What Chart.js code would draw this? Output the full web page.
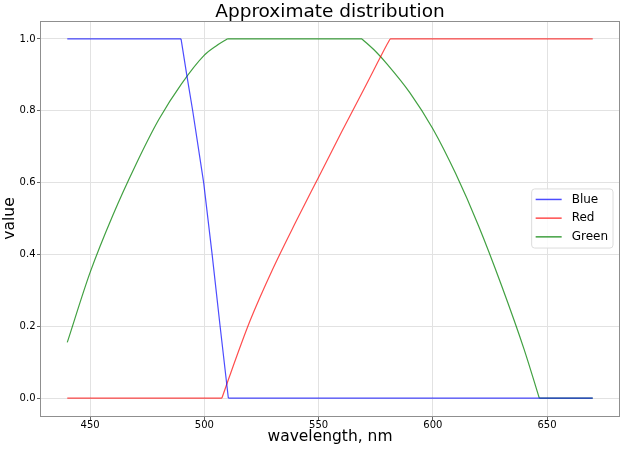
<!DOCTYPE html>
<html>
<head>
<meta charset="utf-8">
<script src="https://cdn.jsdelivr.net/npm/chart.js@4/dist/chart.umd.min.js"></script>
<style>
  html, body { margin: 0; padding: 0; background: #ffffff; }
</style>
</head>
<body>
<canvas id="spectrumChart" width="623" height="450"></canvas>
<script>
// values (wavelength in nm, value 0..1)
// curved parts are split from flat parts so the corners stay sharp
const blueTopX  = [440, 489.8]
const blueTopY  = [1.0, 1.0]
const blueFallX = [489.8, 492.3, 494.9, 499.7, 503.4, 506.9, 510.5]
const blueFallY = [1.0, 0.9, 0.8, 0.6, 0.4, 0.2, 0.0]
const blueBaseX = [510.5, 670]
const blueBaseY = [0.0, 0.0]

const redBaseX = [440, 507.7]
const redBaseY = [0.0, 0.0]
const redRiseX = [507.7, 510, 520, 530, 540, 550, 560, 570, 580, 581.3]
const redRiseY = [0.0, 0.042, 0.215, 0.36, 0.49, 0.615, 0.74, 0.862, 0.985, 1.0]
const redTopX  = [581.3, 670]
const redTopY  = [1.0, 1.0]

const greenRiseX = [440, 450, 460, 470, 480, 490, 500, 505, 510]
const greenRiseY = [0.155, 0.35, 0.51, 0.65, 0.775, 0.875, 0.955, 0.98, 1.0]
const greenTopX  = [510, 569]
const greenTopY  = [1.0, 1.0]
const greenFallX = [569, 575, 580, 590, 600, 610, 620, 630, 640, 646.6]
const greenFallY = [1.0, 0.965, 0.93, 0.85, 0.75, 0.625, 0.48, 0.315, 0.135, 0.0]
const greenBaseX = [646.6, 670]
const greenBaseY = [0.0, 0.0]

const toPoints = (xs, ys) => xs.map((x, i) => ({ x: x, y: ys[i] }))

const BLUE  = 'rgba(0,0,255,0.7)'
const RED   = 'rgba(255,0,0,0.7)'
const GREEN = 'rgba(0,128,0,0.75)'

Chart.defaults.font.family = "'DejaVu Sans', sans-serif"
Chart.defaults.color = '#000000'

// plot frame drawn on top of the lines
const framePlugin = {
  id: 'frame',
  afterDatasetsDraw(chart) {
    const { ctx, chartArea: a } = chart
    ctx.save()
    ctx.strokeStyle = '#8f8f8f'
    ctx.lineWidth = 1
    ctx.strokeRect(a.left - 0.5, a.top + 0.5, a.right - a.left + 1, a.bottom - a.top)
    ctx.restore()
  }
}

// legend box inside the plot, right / centre (one row per label)
const boxLegend = {
  id: 'boxLegend',
  afterDraw(chart) {
    const { ctx, chartArea: a } = chart
    const seen = {}
    const sets = chart.data.datasets.filter(d => {
      if (seen[d.label]) return false
      seen[d.label] = true
      return true
    })
    ctx.save()
    ctx.font = "12px 'DejaVu Sans'"
    let maxW = 0
    sets.forEach(d => { maxW = Math.max(maxW, ctx.measureText(d.label).width) })
    const rowH = 18.7
    const w = 4 + 26 + 10 + maxW + 5
    const h = sets.length * rowH + 3
    const x = a.right - 6 - w
    const y = (a.top + a.bottom) / 2 - h / 2
    ctx.beginPath()
    ctx.roundRect(x, y, w, h, 3)
    ctx.fillStyle = 'rgba(255,255,255,0.85)'
    ctx.fill()
    ctx.strokeStyle = '#dcdcdc'
    ctx.lineWidth = 1
    ctx.stroke()
    sets.forEach((d, i) => {
      const cy = y + 10.5 + i * rowH
      ctx.beginPath()
      ctx.moveTo(x + 4, cy)
      ctx.lineTo(x + 30, cy)
      ctx.strokeStyle = d.borderColor
      ctx.lineWidth = 1.5
      ctx.stroke()
      ctx.fillStyle = '#000000'
      ctx.textBaseline = 'middle'
      ctx.fillText(d.label, x + 40, cy)
    })
    ctx.restore()
  }
}

const ctx = document.getElementById('spectrumChart').getContext('2d')

const curve = (label, xs, ys, color) => ({
  label: label, data: toPoints(xs, ys), borderColor: color, cubicInterpolationMode: 'monotone'
})
const flat = (label, xs, ys, color) => ({
  label: label, data: toPoints(xs, ys), borderColor: color
})

const spectrumChart = new Chart(ctx, {
  type: 'line',
  data: {
    datasets: [
      flat('Blue', blueTopX, blueTopY, BLUE),
      flat('Blue', blueFallX, blueFallY, BLUE),
      flat('Blue', blueBaseX, blueBaseY, BLUE),
      flat('Red', redBaseX, redBaseY, RED),
      curve('Red', redRiseX, redRiseY, RED),
      flat('Red', redTopX, redTopY, RED),
      curve('Green', greenRiseX, greenRiseY, GREEN),
      flat('Green', greenTopX, greenTopY, GREEN),
      curve('Green', greenFallX, greenFallY, GREEN),
      flat('Green', greenBaseX, greenBaseY, GREEN)
    ]
  },
  options: {
    responsive: false,
    animation: false,
    layout: { padding: { left: 0, right: 4, top: 0, bottom: 0 } },
    elements: {
      point: { radius: 0 },
      line: { borderWidth: 1.2, tension: 0, fill: false }
    },
    plugins: {
      legend: { display: false },
      tooltip: { enabled: false },
      title: {
        display: true,
        text: 'Approximate distribution',
        fullSize: false,
        color: '#000000',
        font: { size: 18.5, weight: 'normal', lineHeight: 1 },
        padding: { top: 3, bottom: -0.5 }
      }
    },
    scales: {
      x: {
        type: 'linear',
        min: 428.5,
        max: 681.5,
        afterFit: scale => { scale.height = 34 },
        border: { display: false },
        grid: { color: '#e2e2e2', tickColor: '#666666', tickLength: 4 },
        ticks: {
          stepSize: 50,
          includeBounds: false,
          maxRotation: 0,
          padding: 0,
          color: '#000000',
          font: { size: 10, lineHeight: 1 }
        },
        title: {
          display: true,
          text: 'wavelength, nm',
          color: '#000000',
          font: { size: 15.5, lineHeight: 1.2 },
          padding: { top: 0, bottom: 4 }
        }
      },
      y: {
        type: 'linear',
        min: -0.05,
        max: 1.05,
        afterFit: scale => { scale.width = 41 },
        border: { display: false },
        grid: { color: '#e2e2e2', tickColor: '#666666', tickLength: 4 },
        ticks: {
          stepSize: 0.2,
          includeBounds: false,
          padding: 1.5,
          color: '#000000',
          font: { size: 10, lineHeight: 1 },
          callback: v => v.toFixed(1)
        },
        title: {
          display: true,
          text: 'value',
          color: '#000000',
          font: { size: 15.5, lineHeight: 1.2 },
          padding: { top: 1, bottom: 0 }
        }
      }
    }
  },
  plugins: [framePlugin, boxLegend]
})
</script>
</body>
</html>
